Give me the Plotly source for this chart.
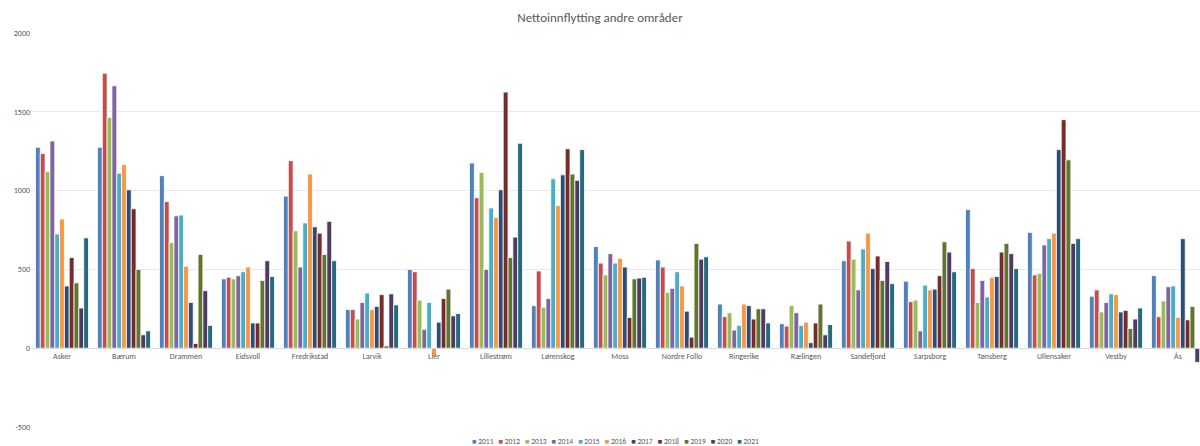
import plotly.graph_objects as go

# Municipalities on the category axis
kommuner = ["Asker", "Bærum", "Drammen", "Eidsvoll", "Fredrikstad", "Larvik", "Lier",
            "Lillestrøm", "Lørenskog", "Moss", "Nordre Follo", "Ringerike", "Rælingen",
            "Sandefjord", "Sarpsborg", "Tønsberg", "Ullensaker", "Vestby", "Ås"]

years = ["2011", "2012", "2013", "2014", "2015", "2016", "2017", "2018", "2019", "2020", "2021"]

# Net in-migration per municipality, one list per year
y2011 = [1275, 1275, 1095, 440, 965, 245, 500, 1175, 270, 645, 560, 280, 155, 555, 425, 880, 735, 330, 460]
y2012 = [1235, 1745, 930, 450, 1190, 245, 485, 955, 490, 540, 515, 200, 140, 680, 295, 505, 465, 370, 200]
y2013 = [1120, 1465, 670, 440, 745, 185, 305, 1115, 260, 465, 355, 225, 270, 565, 305, 290, 475, 230, 300]
y2014 = [1315, 1665, 840, 460, 515, 290, 120, 500, 315, 600, 380, 115, 225, 370, 110, 430, 655, 290, 390]
y2015 = [725, 1110, 845, 485, 795, 350, 290, 890, 1075, 540, 485, 145, 145, 630, 400, 325, 695, 345, 395]
y2016 = [820, 1165, 520, 515, 1105, 245, -50, 830, 905, 570, 395, 280, 165, 730, 370, 450, 730, 340, 195]
y2017 = [395, 1005, 290, 160, 770, 265, 165, 1005, 1100, 515, 235, 270, 35, 505, 375, 455, 1260, 230, 695]
y2018 = [575, 885, 30, 160, 730, 340, 315, 1625, 1265, 195, 70, 185, 160, 585, 460, 610, 1450, 240, 180]
y2019 = [415, 500, 595, 430, 595, 15, 375, 575, 1105, 440, 665, 250, 280, 430, 675, 665, 1195, 125, 265]
y2020 = [255, 85, 365, 555, 805, 345, 205, 705, 1065, 445, 565, 250, 85, 550, 610, 600, 665, 185, -90]
y2021 = [700, 110, 145, 455, 555, 275, 220, 1300, 1260, 450, 580, 160, 150, 410, 485, 505, 695, 255, None]

series = [y2011, y2012, y2013, y2014, y2015, y2016, y2017, y2018, y2019, y2020, y2021]

colors = ["#4F81BD", "#C0504D", "#9BBB59", "#8064A2", "#4BACC6", "#F79646",
          "#2C4D75", "#772C2A", "#5F7530", "#4D3B62", "#276A7C"]

y_ticks = [-500, 0, 500, 1000, 1500, 2000]

FONT = "Carlito, Lato, 'Liberation Sans', sans-serif"
GREY = "#595959"

fig = go.Figure()
for year, vals, col in zip(years, series, colors):
    fig.add_trace(go.Bar(
        name=year, x=kommuner, y=vals,
        marker=dict(color=col, line=dict(color="white", width=0.8)),
        showlegend=False,
    ))

# Compact legend row below the plot
legend_text = "\u00a0\u00a0\u00a0".join(
    f"<span style='color:{c}'>■</span>\u00a0{y}" for y, c in zip(years, colors)
)
fig.add_annotation(
    text=legend_text, xref="paper", yref="paper", x=0.5, y=-0.036,
    xanchor="center", yanchor="middle", showarrow=False,
    font=dict(family=FONT, size=7.5, color=GREY),
)

fig.update_layout(
    width=1200, height=446,
    barmode="group", bargap=0.145, bargroupgap=0,
    paper_bgcolor="white", plot_bgcolor="white",
    margin=dict(l=31, r=0, t=33, b=19),
    font=dict(family=FONT, color=GREY),
    title=dict(text="Nettoinnflytting andre områder", x=0.5, xanchor="center",
               y=1 - 17 / 446, yanchor="middle",
               font=dict(family=FONT, size=13, color=GREY)),
    xaxis=dict(
        anchor="free", position=0.2,
        range=[-0.5, 18.355],
        showline=True, linecolor="#D9D9D9", linewidth=1,
        showgrid=False, ticks="",
        tickfont=dict(family=FONT, size=8, color=GREY),
    ),
    yaxis=dict(
        range=[-500, 2000],
        tickvals=y_ticks, ticktext=[str(v) for v in y_ticks],
        showgrid=True, gridcolor="#E8E8E8", gridwidth=1,
        zeroline=False, showline=False, ticks="",
        tickfont=dict(family=FONT, size=8, color=GREY),
    ),
)

fig.write_html("out.html")
